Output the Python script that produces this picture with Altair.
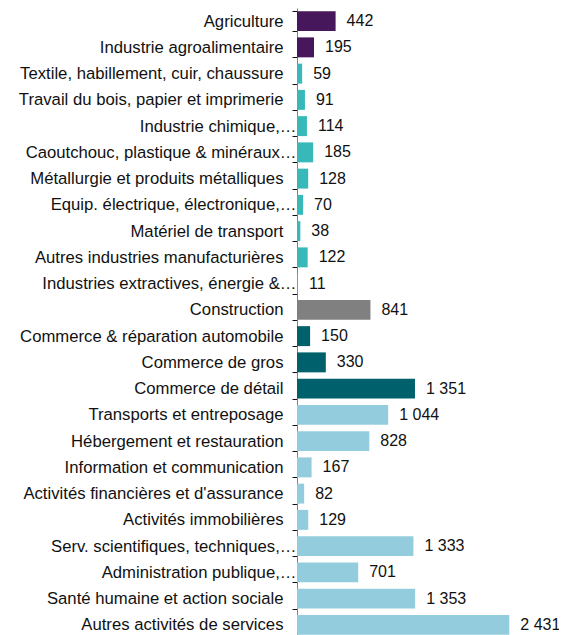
import altair as alt
import pandas as pd

categories = [
    "Agriculture",
    "Industrie agroalimentaire",
    "Textile, habillement, cuir, chaussure",
    "Travail du bois, papier et imprimerie ",
    "Industrie chimique,…",
    "Caoutchouc, plastique & minéraux…",
    "Métallurgie et produits métalliques",
    "Equip. électrique, électronique,…",
    "Matériel de transport",
    "Autres industries manufacturières",
    "Industries extractives, énergie &…",
    "Construction ",
    "Commerce & réparation automobile",
    "Commerce de gros",
    "Commerce de détail",
    "Transports et entreposage ",
    "Hébergement et restauration",
    "Information et communication",
    "Activités financières et d'assurance",
    "Activités immobilières",
    "Serv. scientifiques, techniques,…",
    "Administration publique,…",
    "Santé humaine et action sociale",
    "Autres activités de services",
]
values = [442, 195, 59, 91, 114, 185, 128, 70, 38, 122, 11, 841,
          150, 330, 1351, 1044, 828, 167, 82, 129, 1333, 701, 1353, 2431]
groups = (["agri"] * 2 + ["industrie"] * 9 + ["construction"]
          + ["commerce"] * 3 + ["services"] * 9)
group_names = ["agri", "industrie", "construction", "commerce", "services"]
group_colors = ["#46175a", "#38b8b8", "#808080", "#00606b", "#93cddd"]

df = pd.DataFrame({"cat": categories, "value": values, "group": groups})

# truncated labels (ending with an ellipsis) run up to the axis line
truncated_test = "isString(datum.value) && indexof(datum.value, '\\u2026') >= 0"

base = alt.Chart(df).encode(
    y=alt.Y(
        "cat:N",
        sort=categories,
        title=None,
        scale=alt.Scale(paddingInner=0.24, paddingOuter=0.12),
        axis=alt.Axis(
            labelFont="Liberation Sans",
            labelFontSize=16.7,
            labelColor="#111111",
            labelPadding={"condition": {"test": truncated_test, "value": -4},
                          "value": 9},
            labelLimit=500,
            tickSize=5,
            tickColor="#111111",
            tickBand="extent",
            domainColor="#808080",
            grid=False,
        ),
    )
)

bars = base.mark_bar().encode(
    x=alt.X("value:Q", scale=alt.Scale(domain=[0, 3000]), axis=None),
    color=alt.Color(
        "group:N",
        scale=alt.Scale(domain=group_names, range=group_colors),
        legend=None,
    ),
)

text = (
    base.transform_calculate(
        label="replace(format(datum.value, ','), ',', '\u00a0')"
    )
    .mark_text(align="left", dx=11, font="Liberation Sans", fontSize=16,
               color="#111111")
    .encode(x=alt.X("value:Q"), text="label:N")
)

chart = (
    alt.layer(bars, text)
    .properties(
        width=262,
        height=630,
        autosize=alt.AutoSizeParams(type="none"),
        padding={"left": 297, "top": 8, "right": 0, "bottom": 0},
    )
    .configure_view(stroke=None)
)

chart.save("out.html", embed_options={"renderer": "svg", "actions": False})
